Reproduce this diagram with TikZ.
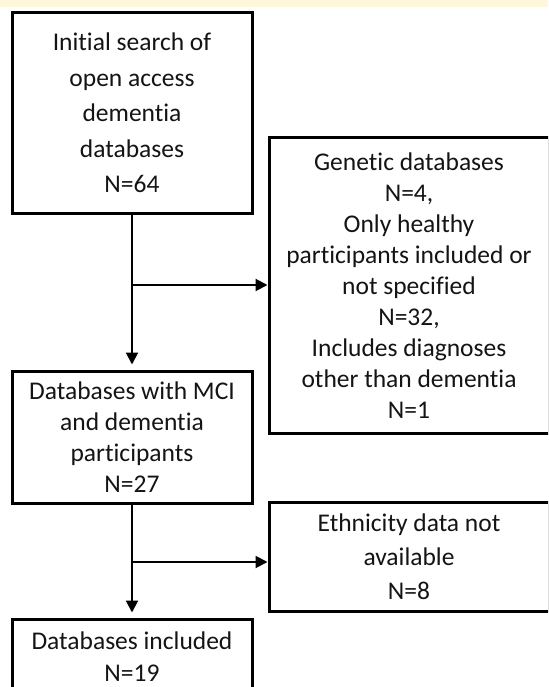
\documentclass[tikz,border=0pt]{standalone}
\usepackage{fontspec}
\setmainfont{Carlito}[RawFeature=-liga]
\usetikzlibrary{arrows.meta,calc}
\definecolor{band}{RGB}{255,247,219}
\definecolor{ink}{RGB}{20,20,20}
\tikzset{
  box/.style={draw=black, line width=3pt, rectangle, inner sep=0pt, align=center,
              text=ink, font=\fontsize{25.5}{#1}\selectfont},
  conn/.style={line width=2pt, -{Triangle[length=12pt,width=12pt]}},
}
\begin{document}
\begin{tikzpicture}[x=1pt,y=-1pt]
\useasboundingbox (0,0) rectangle (548,687);
\clip (0,0) rectangle (548,687);
\fill[white] (0,0) rectangle (548,687);
\fill[band] (0,0) rectangle (548,7);
\node[box=35.5, minimum width=240pt, minimum height=200pt] (b1) at (132,113)
  {Initial search of\\open access\\dementia\\databases\\N=64};
\node[box=31, minimum width=280pt, minimum height=295pt] (b3) at (409,285.5)
  {Genetic databases\\N=4,\\Only healthy\\participants included or\\not specified\\N=32,\\Includes diagnoses\\other than dementia\\N=1};
\node[box=31, minimum width=240pt, minimum height=132pt] (b2) at (132,437)
  {Databases with MCI\\and dementia\\participants\\N=27};
\node[box=34, minimum width=280pt, minimum height=109pt] (b4) at (409,556.5)
  {Ethnicity data not\\available\\N=8};
\node[box=32, minimum width=240pt, minimum height=76pt] (b5) at (132,657)
  {Databases included\\N=19};
\coordinate (j1) at (132,285);
\coordinate (j2) at (132,562);
\draw[conn, shorten >=5pt] (b1.south) -- (b2.north);
\draw[conn] (j1) -- (j1 -| b3.west);
\draw[conn, shorten >=5pt] (b2.south) -- (b5.north);
\draw[conn] (j2) -- (j2 -| b4.west);
\end{tikzpicture}
\end{document}
